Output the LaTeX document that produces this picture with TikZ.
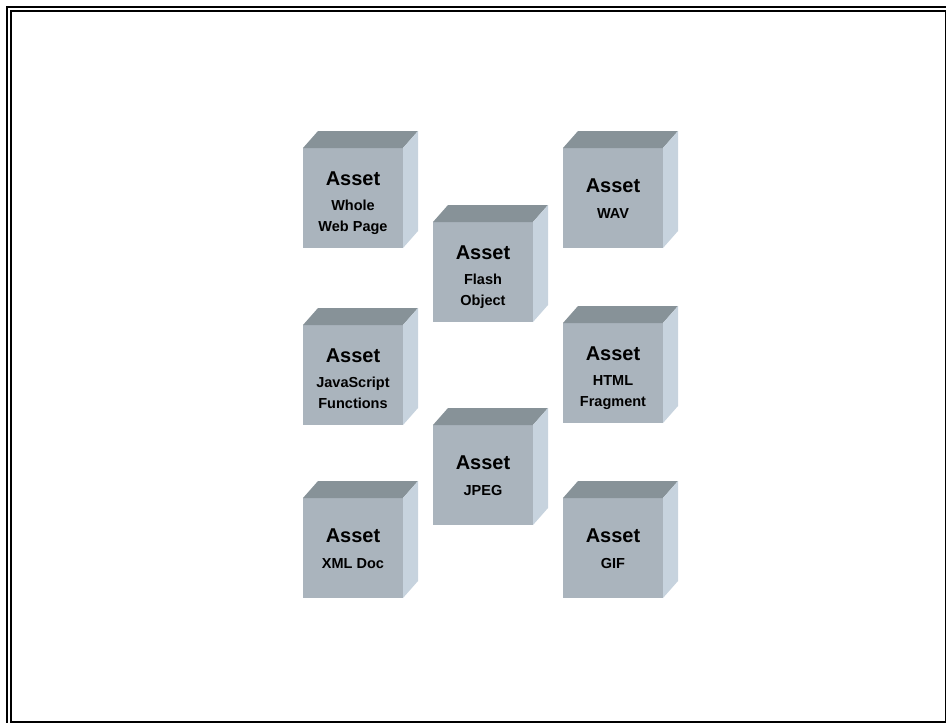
\documentclass[tikz,border=0pt]{standalone}
\usepackage{fontspec}
\setmainfont{Liberation Sans}
\definecolor{frontc}{RGB}{170,180,189}
\definecolor{topc}{RGB}{135,146,152}
\definecolor{sidec}{RGB}{199,211,222}
\tikzset{
  face/.style={draw=none, fill=frontc, minimum width=100pt, minimum height=100pt, inner sep=0pt, outer sep=0pt},
  titletext/.style={font=\bfseries\fontsize{20}{24}\selectfont, inner sep=0pt, anchor=base},
  subtext/.style={font=\bfseries\fontsize{14.5}{21}\selectfont, inner sep=0pt, align=center, anchor=base},
  frameline/.style={draw=black, line width=2pt},
}
\begin{document}
\begin{tikzpicture}[x=1pt, y=-1pt]
\useasboundingbox (0,0) rectangle (946,723);
\draw[frameline] (7,7) rectangle (960,740);
\draw[frameline] (11,11) rectangle (946,722);
\foreach \n/\x/\y/\t/\a/\b in {
  web/303/148/{Whole\\Web Page}/-12.5/33,
  wav/563/148/{WAV}/-5.5/20,
  flash/433/222/{Flash\\Object}/-12.5/33,
  js/303/325/{JavaScript\\Functions}/-12.5/33,
  html/563/323/{HTML\\Fragment}/-12.5/33,
  jpeg/433/425/{JPEG}/-5.5/20,
  xml/303/498/{XML Doc}/-5.5/20,
  gif/563/498/{GIF}/-5.5/20}
{
  \node[face] (\n) at (\x+50,\y+50) {};
  \fill[topc] (\n.north west) -- ++(15,-17) -- ++(100,0) -- (\n.north east) -- cycle;
  \fill[sidec] (\n.north east) -- ++(15,-17) -- ++(0,100) -- (\n.south east) -- cycle;
  \node[titletext] (\n-title) at ([yshift=-\a pt]\n.center) {Asset};
  \node[subtext] (\n-sub) at ([yshift=-\b pt]\n.center) {\t};
}
\end{tikzpicture}
\end{document}
